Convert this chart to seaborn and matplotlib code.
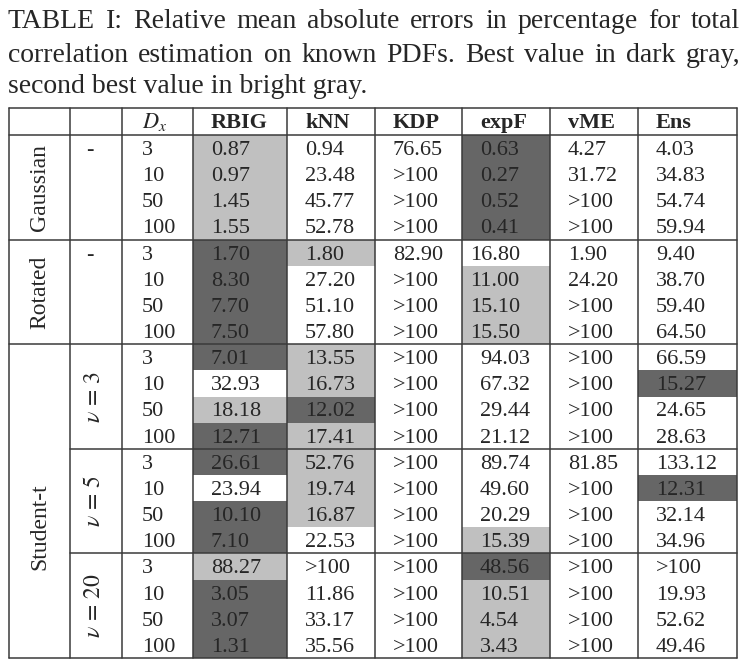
import numpy as np
import matplotlib
matplotlib.use("Agg")
import matplotlib.pyplot as plt
import seaborn as sns
from matplotlib.colors import ListedColormap

# ---- table data ----
methods = ["RBIG", "kNN", "KDP", "expF", "vME", "Ens"]
dims = ["3", "10", "50", "100"] * 5
groups = ["Gaussian", "Rotated", "Student-t"]
sub_groups = ["-", "-", r"$\nu\,=\,3$", r"$\nu\,=\,5$", r"$\nu\,=\,20$"]

rbig = ["0.87", "0.97", "1.45", "1.55", "1.70", "8.30", "7.70", "7.50",
        "7.01", "32.93", "18.18", "12.71", "26.61", "23.94", "10.10", "7.10",
        "88.27", "3.05", "3.07", "1.31"]
knn = ["0.94", "23.48", "45.77", "52.78", "1.80", "27.20", "51.10", "57.80",
       "13.55", "16.73", "12.02", "17.41", "52.76", "19.74", "16.87", "22.53",
       ">100", "11.86", "33.17", "35.56"]
kdp = ["76.65", ">100", ">100", ">100", "82.90", ">100", ">100", ">100",
       ">100", ">100", ">100", ">100", ">100", ">100", ">100", ">100",
       ">100", ">100", ">100", ">100"]
expf = ["0.63", "0.27", "0.52", "0.41", "16.80", "11.00", "15.10", "15.50",
        "94.03", "67.32", "29.44", "21.12", "89.74", "49.60", "20.29", "15.39",
        "48.56", "10.51", "4.54", "3.43"]
vme = ["4.27", "31.72", ">100", ">100", "1.90", "24.20", ">100", ">100",
       ">100", ">100", ">100", ">100", "81.85", ">100", ">100", ">100",
       ">100", ">100", ">100", ">100"]
ens = ["4.03", "34.83", "54.74", "59.94", "9.40", "38.70", "59.40", "64.50",
       "66.59", "15.27", "24.65", "28.63", "133.12", "12.31", "32.14", "34.96",
       ">100", "19.93", "52.62", "49.46"]

best = ["expF", "expF", "expF", "expF", "RBIG", "RBIG", "RBIG", "RBIG",
        "RBIG", "Ens", "kNN", "RBIG", "RBIG", "Ens", "RBIG", "RBIG",
        "expF", "RBIG", "RBIG", "RBIG"]
second = ["RBIG", "RBIG", "RBIG", "RBIG", "kNN", "expF", "expF", "expF",
          "kNN", "kNN", "RBIG", "kNN", "kNN", "kNN", "kNN", "expF",
          "RBIG", "expF", "expF", "expF"]

caption = ["TABLE I: Relative mean absolute errors in percentage for total",
           "correlation estimation on known PDFs. Best value in dark gray,",
           "second best value in bright gray."]

columns = {"RBIG": rbig, "kNN": knn, "KDP": kdp, "expF": expf, "vME": vme, "Ens": ens}

# ---- layout (pixels) ----
W, H = 746, 672
col_x = [9, 70, 122, 193, 287, 375, 462, 550, 638, 737]
top, head_bot, bottom = 108, 135, 658
row_h = (bottom - head_bot) / 20
line_c = "#3a3a3a"
serif = ["Liberation Serif", "DejaVu Serif"]

sns.set_style("white")
plt.rcParams["font.family"] = serif
plt.rcParams["mathtext.fontset"] = "stix"

fig = plt.figure(figsize=(W / 100, H / 100), dpi=100)

# shaded cells via seaborn heatmap, column widths kept in pixel units
shade = np.zeros((20, len(methods)), dtype=int)
for i in range(20):
    shade[i, methods.index(second[i])] = 1
    shade[i, methods.index(best[i])] = 2
widths = np.diff(col_x[3:])
shade_px = np.repeat(shade, widths, axis=1)
hax = fig.add_axes([col_x[3] / W, 1 - bottom / H, (col_x[-1] - col_x[3]) / W,
                    (bottom - head_bot) / H])
sns.heatmap(shade_px, ax=hax, cmap=ListedColormap(["white", "#c0c0c0", "#666666"]),
            vmin=-0.5, vmax=2.5, cbar=False, xticklabels=False, yticklabels=False)
hax.axis("off")

ax = fig.add_axes([0, 0, 1, 1], zorder=2)
ax.set_xlim(0, W)
ax.set_ylim(H, 0)
ax.axis("off")
ax.patch.set_alpha(0)

# grid lines
for x in col_x:
    ax.plot([x, x], [top, bottom], color=line_c, lw=1.1)
for y in [top, head_bot, head_bot + 4 * row_h, head_bot + 8 * row_h, bottom]:
    ax.plot([col_x[0], col_x[-1]], [y, y], color=line_c, lw=1.1)
for y in [head_bot + 12 * row_h, head_bot + 16 * row_h]:
    ax.plot([col_x[1], col_x[-1]], [y, y], color=line_c, lw=1.1)

fs = 16
# header
ax.text(col_x[2] + 20, head_bot - 7, "$D_x$", fontsize=fs, ha="left", va="baseline")
for j, m in enumerate(methods):
    ax.text(col_x[3 + j] + 18, head_bot - 7, m, fontsize=fs, fontweight="bold",
            ha="left", va="baseline")

# body
for i in range(20):
    yb = head_bot + i * row_h + 20
    ax.text(col_x[2] + 20, yb, dims[i], fontsize=fs, ha="left", va="baseline")
    for j, m in enumerate(methods):
        pad = 8 if (m == "expF" and 4 <= i < 8) else 18
        ax.text(col_x[3 + j] + pad, yb, columns[m][i], fontsize=fs,
                ha="left", va="baseline")

# group labels
group_centers = [head_bot + 2 * row_h, head_bot + 6 * row_h, 527]
for g, yc in zip(groups, group_centers):
    ax.text((col_x[0] + col_x[1]) / 2, yc, g, fontsize=17, rotation=90,
            ha="center", va="center")
for k, s in enumerate(sub_groups):
    if s == "-":
        ax.text(col_x[1] + 20, head_bot + 4 * k * row_h + 20, s, fontsize=fs,
                ha="center", va="baseline")
    else:
        ax.text((col_x[1] + col_x[2]) / 2 - 2, head_bot + (4 * k + 2) * row_h, s,
                fontsize=17, rotation=90, ha="center", va="center")

# caption, first two lines justified
renderer = fig.canvas.get_renderer()
cap_fs = 20
x0, x1 = 8, 740
baselines = [28, 62, 93]
for li, (line, yb) in enumerate(zip(caption, baselines)):
    if li == len(caption) - 1:
        ax.text(x0, yb, line, fontsize=cap_fs, ha="left", va="baseline")
        continue
    words = line.split(" ")
    arts = [ax.text(0, yb, w, fontsize=cap_fs, ha="left", va="baseline") for w in words]
    ws = [a.get_window_extent(renderer).width for a in arts]
    gap = (x1 - x0 - sum(ws)) / (len(words) - 1)
    x = x0
    for a, w in zip(arts, ws):
        a.set_x(x)
        x += w + gap

fig.savefig("out.png", dpi=100)
